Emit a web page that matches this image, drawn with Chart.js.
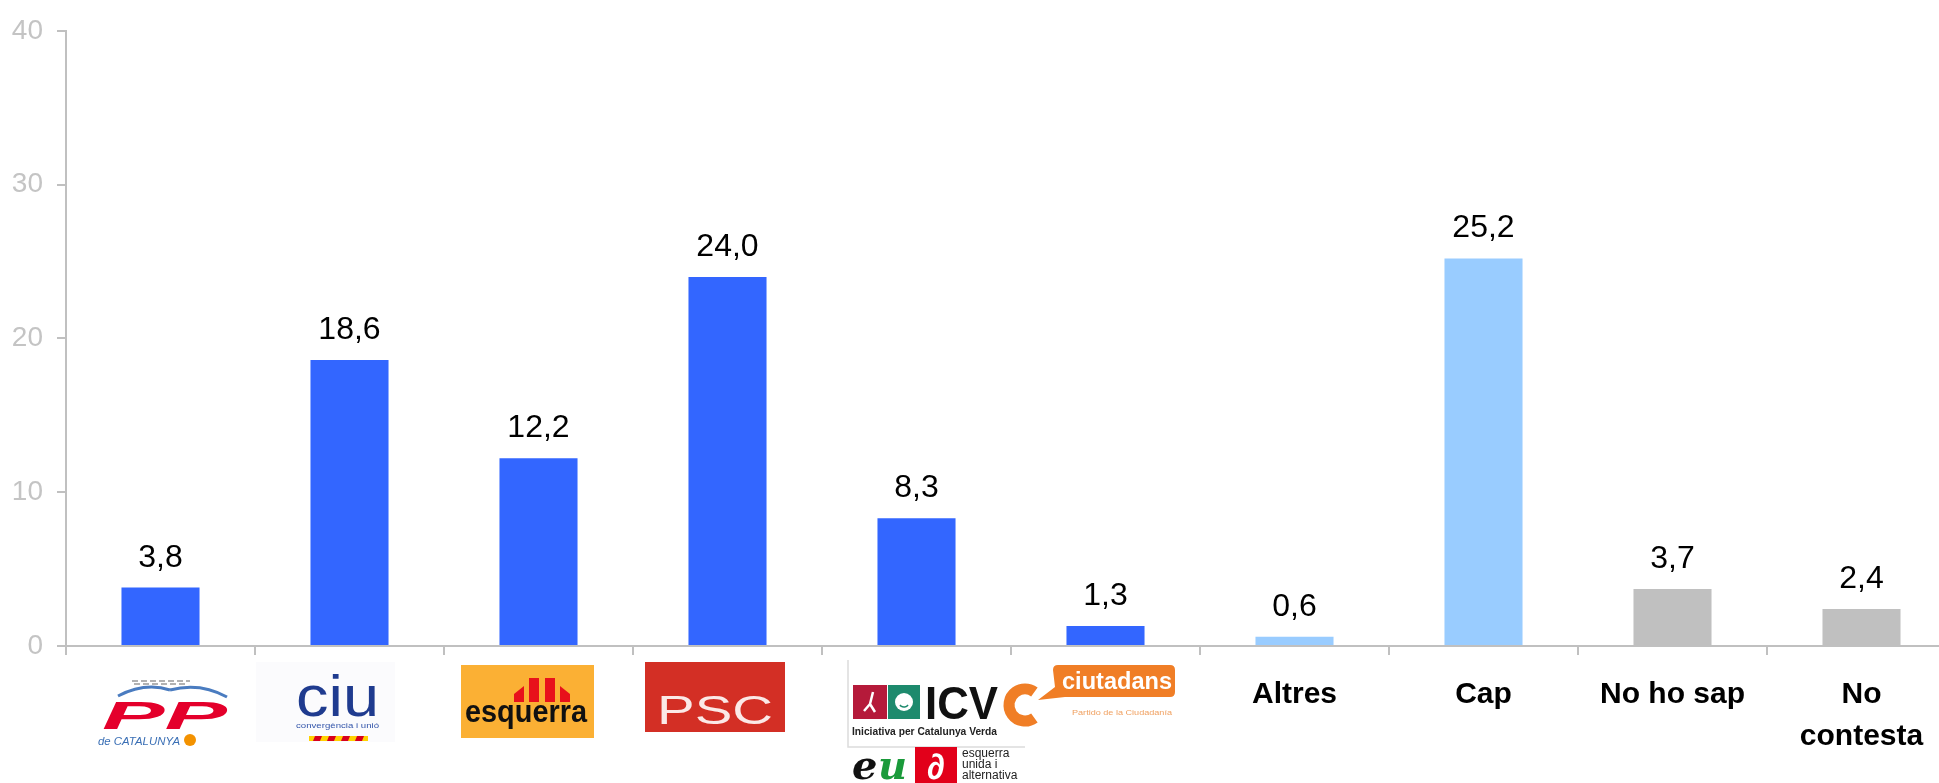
<!DOCTYPE html>
<html>
<head>
<meta charset="utf-8">
<script src="https://cdn.jsdelivr.net/npm/chart.js@4"></script>
<style>
  html, body { margin: 0; padding: 0; background: #ffffff; overflow: hidden; }
  #wrap { position: absolute; left: 0; top: 0; width: 1956px; height: 783px; }
</style>
</head>
<body>
<div id="wrap"><canvas id="c" width="1956" height="783"></canvas></div>
<script>
// ---- data ----
const categories = ['PP', 'CiU', 'ERC', 'PSC', 'ICV-EUiA', "C's", 'Altres', 'Cap', 'No ho sap', 'No contesta'];
const tickLabels = ['', '', '', '', '', '', 'Altres', 'Cap', 'No ho sap', ['No', 'contesta']];
const values = [3.8, 18.6, 12.2, 24.0, 8.3, 1.3, 0.6, 25.2, 3.7, 2.4];
const barColors = ['#3366FF', '#3366FF', '#3366FF', '#3366FF', '#3366FF', '#3366FF', '#99CCFF', '#99CCFF', '#C0C0C0', '#C0C0C0'];
const yTicks = [0, 10, 20, 30, 40];

const FONT = "'Liberation Sans', Arial, sans-serif";

function fitText(ctx, text, font, x, baseline, width, color, align) {
  ctx.save();
  ctx.font = font;
  ctx.fillStyle = color;
  ctx.textBaseline = 'alphabetic';
  ctx.textAlign = 'left';
  const w = ctx.measureText(text).width;
  const s = width / w;
  let left = x;
  if (align === 'center') left = x - width / 2;
  ctx.translate(left, baseline);
  ctx.scale(s, 1);
  ctx.fillText(text, 0, 0);
  ctx.restore();
}

// data labels
const valueLabels = {
  id: 'valueLabels',
  afterDatasetsDraw(chart) {
    const ctx = chart.ctx;
    const meta = chart.getDatasetMeta(0);
    ctx.save();
    ctx.font = '32px ' + FONT;
    ctx.fillStyle = '#000000';
    ctx.textAlign = 'center';
    ctx.textBaseline = 'alphabetic';
    meta.data.forEach((bar, i) => {
      const txt = values[i].toFixed(1).replace('.', ',');
      ctx.fillText(txt, bar.x, bar.y - 21);
    });
    ctx.restore();
  }
};

// party logos drawn under the axis
const logos = {
  id: 'logos',
  afterDraw(chart) {
    const ctx = chart.ctx;
    const xs = chart.scales.x;
    const base = chart.chartArea.bottom;
    const c = i => xs.getPixelForValue(i);
    ctx.save();

    // ---- PP ----
    {
      const cx = c(0);
      const ox = cx - 160.5, oy = base - 646;
      ctx.save();
      ctx.translate(ox, oy);
      ctx.strokeStyle = '#999999'; ctx.lineWidth = 1.5; ctx.setLineDash([6, 3]);
      ctx.beginPath(); ctx.moveTo(132, 681); ctx.lineTo(190, 681); ctx.stroke();
      ctx.beginPath(); ctx.moveTo(134, 684); ctx.lineTo(188, 684); ctx.stroke();
      ctx.setLineDash([]);
      ctx.strokeStyle = '#4a7cc0'; ctx.lineWidth = 3;
      ctx.beginPath(); ctx.moveTo(118, 696); ctx.quadraticCurveTo(145, 682, 170, 690); ctx.stroke();
      ctx.beginPath(); ctx.moveTo(170, 690); ctx.quadraticCurveTo(200, 682, 227, 697); ctx.stroke();
      ctx.restore();
      ctx.save(); ctx.translate(ox, oy);
      fitText(ctx, 'PP', 'italic 900 38px ' + FONT, 102, 729, 125, '#e4002b');
      fitText(ctx, 'de CATALUNYA', 'italic 11px ' + FONT, 98, 745, 82, '#3a6fb5');
      ctx.fillStyle = '#f39200';
      ctx.beginPath(); ctx.arc(190, 740, 6, 0, Math.PI * 2); ctx.fill();
      ctx.restore();
    }

    // ---- CiU ----
    {
      const cx = c(1);
      const ox = cx - 349.5, oy = base - 646;
      ctx.save(); ctx.translate(ox, oy);
      ctx.fillStyle = '#fbfbfd'; ctx.fillRect(256, 662, 139, 80);
      fitText(ctx, 'ciu', '58px ' + FONT, 296, 716, 83, '#1f3b8f');
      fitText(ctx, 'convergència i unió', '8px ' + FONT, 296, 728, 83, '#3355aa');
      ctx.fillStyle = '#ffd200'; ctx.fillRect(309, 736, 59, 5);
      ctx.fillStyle = '#d8001e';
      for (let k = 0; k < 4; k++) {
        const x0 = 313 + k * 14;
        ctx.beginPath();
        ctx.moveTo(x0 + 2, 736); ctx.lineTo(x0 + 9, 736); ctx.lineTo(x0 + 7, 741); ctx.lineTo(x0, 741);
        ctx.closePath(); ctx.fill();
      }
      ctx.restore();
    }

    // ---- ERC ----
    {
      const cx = c(2);
      const ox = cx - 538.5, oy = base - 646;
      ctx.save(); ctx.translate(ox, oy);
      ctx.fillStyle = '#fbb034'; ctx.fillRect(461, 665, 133, 73);
      ctx.fillStyle = '#e8111b';
      const bars = [[514, 692, 10], [529, 678, 10], [545, 678, 10], [560, 692, 10]];
      bars.forEach(([x, t, w], k) => {
        ctx.beginPath();
        if (k === 0) { ctx.moveTo(x, 702); ctx.lineTo(x + w, 702); ctx.lineTo(x + w, t - 6); ctx.lineTo(x, t + 2); }
        else if (k === 3) { ctx.moveTo(x, 702); ctx.lineTo(x + w, 702); ctx.lineTo(x + w, t + 2); ctx.lineTo(x, t - 6); }
        else { ctx.moveTo(x, 702); ctx.lineTo(x + w, 702); ctx.lineTo(x + w, t); ctx.lineTo(x, t); }
        ctx.closePath(); ctx.fill();
      });
      fitText(ctx, 'esquerra', 'bold 31px ' + FONT, 465, 722, 122, '#111111');
      ctx.restore();
    }

    // ---- PSC ----
    {
      const cx = c(3);
      const ox = cx - 727.5, oy = base - 646;
      ctx.save(); ctx.translate(ox, oy);
      ctx.fillStyle = '#d32f25'; ctx.fillRect(645, 662, 140, 70);
      fitText(ctx, 'PSC', '40px ' + FONT, 657, 724, 116, '#fbe9e7');
      ctx.restore();
    }

    // ---- ICV / EUiA ----
    {
      const cx = c(4);
      const ox = cx - 916.5, oy = base - 646;
      ctx.save(); ctx.translate(ox, oy);
      ctx.strokeStyle = '#dcdcdc'; ctx.lineWidth = 1.5;
      ctx.beginPath(); ctx.moveTo(848, 660); ctx.lineTo(848, 747); ctx.lineTo(1025, 747); ctx.stroke();
      ctx.fillStyle = '#b51a3a'; ctx.fillRect(853, 685, 34, 34);
      ctx.fillStyle = '#1d8a6d'; ctx.fillRect(888, 685, 32, 34);
      ctx.strokeStyle = '#ffffff'; ctx.lineWidth = 2.5;
      ctx.beginPath(); ctx.moveTo(873, 692); ctx.lineTo(870, 704); ctx.lineTo(864, 711); ctx.moveTo(870, 704); ctx.lineTo(875, 712); ctx.stroke();
      ctx.fillStyle = '#ffffff';
      ctx.beginPath(); ctx.arc(904, 702, 9, 0, Math.PI * 2); ctx.fill();
      ctx.strokeStyle = '#1d8a6d'; ctx.lineWidth = 1.5;
      ctx.beginPath(); ctx.arc(904, 702, 5, 0.2 * Math.PI, 0.8 * Math.PI); ctx.stroke();
      fitText(ctx, 'ICV', 'bold 47px ' + FONT, 925, 719, 73, '#111111');
      fitText(ctx, 'Iniciativa per Catalunya Verda', 'bold 10px ' + FONT, 852, 735, 145, '#222222');
      ctx.save();
      ctx.font = "italic bold 40px 'DejaVu Serif', serif";
      ctx.textBaseline = 'alphabetic';
      ctx.fillStyle = '#111111'; ctx.fillText('e', 852, 779);
      ctx.fillStyle = '#1a9a3a'; ctx.fillText('u', 878, 779);
      ctx.restore();
      ctx.fillStyle = '#e2001a'; ctx.fillRect(915, 747, 42, 36);
      ctx.save();
      ctx.font = "bold 36px " + FONT; ctx.fillStyle = '#ffffff'; ctx.textAlign = 'center';
      ctx.fillText('∂', 936, 779);
      ctx.restore();
      ctx.save();
      ctx.font = '12px ' + FONT; ctx.fillStyle = '#222222';
      ctx.fillText('esquerra', 962, 757);
      ctx.fillText('unida i', 962, 768);
      ctx.fillText('alternativa', 962, 779);
      ctx.restore();
      ctx.restore();
    }

    // ---- Ciutadans ----
    {
      const cx = c(5);
      const ox = cx - 1105.5, oy = base - 646;
      ctx.save(); ctx.translate(ox, oy);
      ctx.strokeStyle = '#f07e26'; ctx.lineWidth = 11;
      ctx.beginPath(); ctx.arc(1025, 705, 16, 0.3 * Math.PI, 1.7 * Math.PI); ctx.stroke();
      ctx.fillStyle = '#f07e26';
      ctx.beginPath();
      const bx = 1053, by = 665, bw = 122, bh = 32, r = 5;
      ctx.moveTo(bx + r, by); ctx.lineTo(bx + bw - r, by); ctx.quadraticCurveTo(bx + bw, by, bx + bw, by + r);
      ctx.lineTo(bx + bw, by + bh - r); ctx.quadraticCurveTo(bx + bw, by + bh, bx + bw - r, by + bh);
      ctx.lineTo(bx + 12, by + bh); ctx.lineTo(1038, 700); ctx.lineTo(bx + 2, by + bh - 10);
      ctx.lineTo(bx, by + r); ctx.quadraticCurveTo(bx, by, bx + r, by);
      ctx.closePath(); ctx.fill();
      fitText(ctx, 'ciutadans', 'bold 24px ' + FONT, 1062, 689, 110, '#ffffff');
      fitText(ctx, 'Partido de la Ciudadanía', '8px ' + FONT, 1072, 715, 100, '#f0a060');
      ctx.restore();
    }

    ctx.restore();
  }
};

new Chart(document.getElementById('c'), {
  type: 'bar',
  data: {
    labels: categories,
    datasets: [{
      data: values,
      backgroundColor: barColors,
      borderWidth: 0,
      categoryPercentage: 1,
      barPercentage: 0.413
    }]
  },
  options: {
    responsive: false,
    animation: false,
    layout: { padding: { top: 26, left: 0, right: 0, bottom: 0 } },
    plugins: { legend: { display: false }, tooltip: { enabled: false } },
    scales: {
      x: {
        grid: { display: true, drawOnChartArea: false, tickLength: 9, color: '#c0c0c0', lineWidth: 2, offset: true },
        border: { color: '#c0c0c0', width: 2 },
        ticks: {
          autoSkip: false, maxRotation: 0, minRotation: 0, padding: 19,
          color: '#000000',
          font: { family: FONT, size: 30, weight: 'bold', lineHeight: 42 / 30 },
          callback: (v, i) => tickLabels[i]
        },
        afterFit: s => { s.height = 137; }
      },
      y: {
        min: yTicks[0], max: yTicks[yTicks.length - 1],
        afterBuildTicks: s => { s.ticks = yTicks.map(v => ({ value: v })); },
        grid: { display: true, drawOnChartArea: false, tickLength: 9, color: '#c0c0c0', lineWidth: 2 },
        border: { color: '#c0c0c0', width: 2 },
        ticks: { color: '#c4c4c4', padding: 14, font: { family: FONT, size: 28 } },
        afterFit: s => { s.width = 66; }
      }
    }
  },
  plugins: [valueLabels, logos]
});
</script>
</body>
</html>
